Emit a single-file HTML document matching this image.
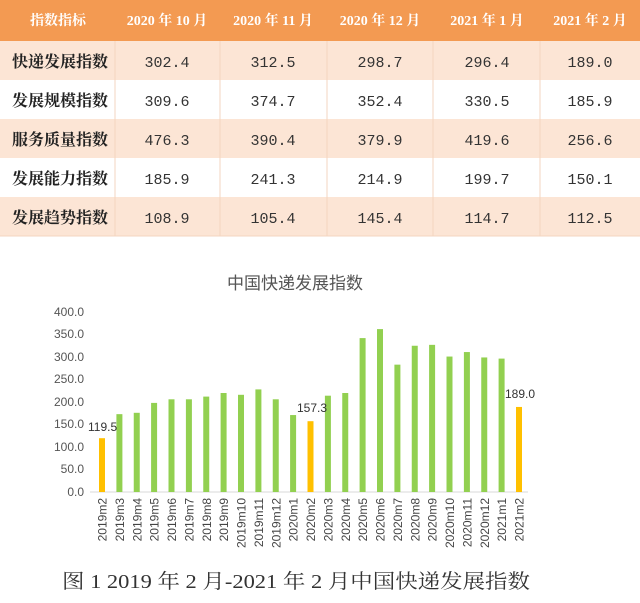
<!DOCTYPE html>
<html><head><meta charset="utf-8"><style>
body{margin:0;width:640px;height:603px;background:#fff;overflow:hidden;}
svg{display:block}
</style></head><body>
<svg width="640" height="603" xmlns="http://www.w3.org/2000/svg">
<rect x="0" y="0" width="640" height="41" fill="#f39a52"/>
<rect x="0" y="41" width="640" height="39" fill="#fce5d5"/>
<rect x="0" y="80" width="640" height="39" fill="#ffffff"/>
<rect x="0" y="119" width="640" height="39" fill="#fce5d5"/>
<rect x="0" y="158" width="640" height="39" fill="#ffffff"/>
<rect x="0" y="197" width="640" height="39" fill="#fce5d5"/>
<g stroke="#f3d5c0" stroke-width="1">
<line x1="115" y1="41" x2="115" y2="236"/><line x1="220" y1="41" x2="220" y2="236"/>
<line x1="327" y1="41" x2="327" y2="236"/><line x1="433" y1="41" x2="433" y2="236"/>
<line x1="540" y1="41" x2="540" y2="236"/>
<line x1="0" y1="236" x2="640" y2="236"/>
</g>
<g font-family="Liberation Serif, Noto Serif CJK SC, serif" font-weight="bold" font-size="14" fill="#fff" text-anchor="middle">
<text x="58" y="25">指数指标</text><text x="167" y="25">2020 年 10 月</text><text x="273" y="25">2020 年 11 月</text>
<text x="380" y="25">2020 年 12 月</text><text x="487" y="25">2021 年 1 月</text><text x="590" y="25">2021 年 2 月</text>
</g>
<g font-family="Noto Serif CJK SC, serif" font-weight="bold" font-size="16" fill="#222">
<text x="12" y="67">快递发展指数</text><text x="12" y="106">发展规模指数</text><text x="12" y="145">服务质量指数</text>
<text x="12" y="184">发展能力指数</text><text x="12" y="223">发展趋势指数</text>
</g>
<g font-family="Liberation Mono, monospace" font-size="15" fill="#333" text-anchor="middle">
<text x="167" y="67">302.4</text><text x="273" y="67">312.5</text><text x="380" y="67">298.7</text><text x="487" y="67">296.4</text><text x="590" y="67">189.0</text>
<text x="167" y="106">309.6</text><text x="273" y="106">374.7</text><text x="380" y="106">352.4</text><text x="487" y="106">330.5</text><text x="590" y="106">185.9</text>
<text x="167" y="145">476.3</text><text x="273" y="145">390.4</text><text x="380" y="145">379.9</text><text x="487" y="145">419.6</text><text x="590" y="145">256.6</text>
<text x="167" y="184">185.9</text><text x="273" y="184">241.3</text><text x="380" y="184">214.9</text><text x="487" y="184">199.7</text><text x="590" y="184">150.1</text>
<text x="167" y="223">108.9</text><text x="273" y="223">105.4</text><text x="380" y="223">145.4</text><text x="487" y="223">114.7</text><text x="590" y="223">112.5</text>
</g>
<text x="295" y="289" font-family="Noto Sans CJK SC, sans-serif" font-size="17" fill="#555" text-anchor="middle">中国快递发展指数</text>
<g font-family="Liberation Sans, sans-serif" font-size="12" fill="#555" text-anchor="end">
<text x="84" y="496">0.0</text><text x="84" y="473">50.0</text><text x="84" y="451">100.0</text><text x="84" y="428">150.0</text>
<text x="84" y="406">200.0</text><text x="84" y="383">250.0</text><text x="84" y="361">300.0</text><text x="84" y="338">350.0</text><text x="84" y="316">400.0</text>
</g>
<line x1="90" y1="492" x2="528" y2="492" stroke="#d9d9d9"/>
<g fill="#92d050">
<rect x="99" y="438.2" width="6" height="53.8" fill="#ffc000"/>
<rect x="116.4" y="414.15" width="6" height="77.85"/>
<rect x="133.75" y="412.8" width="6" height="79.2"/>
<rect x="151.1" y="402.9" width="6" height="89.1"/>
<rect x="168.5" y="399.3" width="6" height="92.7"/>
<rect x="185.9" y="399.3" width="6" height="92.7"/>
<rect x="203.25" y="396.6" width="6" height="95.4"/>
<rect x="220.6" y="393" width="6" height="99"/>
<rect x="238" y="394.8" width="6" height="97.2"/>
<rect x="255.4" y="389.4" width="6" height="102.6"/>
<rect x="272.75" y="399.3" width="6" height="92.7"/>
<rect x="290.1" y="415.05" width="6" height="76.95"/>
<rect x="307.5" y="421.2" width="6" height="70.8" fill="#ffc000"/>
<rect x="324.9" y="395.7" width="6" height="96.3"/>
<rect x="342.25" y="393" width="6" height="99"/>
<rect x="359.6" y="338.1" width="6" height="153.9"/>
<rect x="377" y="329.1" width="6" height="162.9"/>
<rect x="394.4" y="364.65" width="6" height="127.35"/>
<rect x="411.75" y="345.75" width="6" height="146.25"/>
<rect x="429.1" y="344.85" width="6" height="147.15"/>
<rect x="446.5" y="356.55" width="6" height="135.45"/>
<rect x="463.9" y="352.05" width="6" height="139.95"/>
<rect x="481.25" y="357.45" width="6" height="134.55"/>
<rect x="498.6" y="358.6" width="6" height="133.4"/>
<rect x="516" y="406.95" width="6" height="85.05" fill="#ffc000"/>
</g>
<g font-family="Liberation Sans, sans-serif" font-size="12" fill="#444" text-anchor="end">
<text transform="translate(106.5,498) rotate(-90)">2019m2</text>
<text transform="translate(123.9,498) rotate(-90)">2019m3</text>
<text transform="translate(141.25,498) rotate(-90)">2019m4</text>
<text transform="translate(158.6,498) rotate(-90)">2019m5</text>
<text transform="translate(176,498) rotate(-90)">2019m6</text>
<text transform="translate(193.4,498) rotate(-90)">2019m7</text>
<text transform="translate(210.75,498) rotate(-90)">2019m8</text>
<text transform="translate(228.1,498) rotate(-90)">2019m9</text>
<text transform="translate(245.5,498) rotate(-90)">2019m10</text>
<text transform="translate(262.9,498) rotate(-90)">2019m11</text>
<text transform="translate(280.25,498) rotate(-90)">2019m12</text>
<text transform="translate(297.6,498) rotate(-90)">2020m1</text>
<text transform="translate(315,498) rotate(-90)">2020m2</text>
<text transform="translate(332.4,498) rotate(-90)">2020m3</text>
<text transform="translate(349.75,498) rotate(-90)">2020m4</text>
<text transform="translate(367.1,498) rotate(-90)">2020m5</text>
<text transform="translate(384.5,498) rotate(-90)">2020m6</text>
<text transform="translate(401.9,498) rotate(-90)">2020m7</text>
<text transform="translate(419.25,498) rotate(-90)">2020m8</text>
<text transform="translate(436.6,498) rotate(-90)">2020m9</text>
<text transform="translate(454,498) rotate(-90)">2020m10</text>
<text transform="translate(471.4,498) rotate(-90)">2020m11</text>
<text transform="translate(488.75,498) rotate(-90)">2020m12</text>
<text transform="translate(506.1,498) rotate(-90)">2021m1</text>
<text transform="translate(523.5,498) rotate(-90)">2021m2</text>
</g>
<g font-family="Liberation Sans, sans-serif" font-size="12" fill="#333">
<text x="88" y="431">119.5</text><text x="297" y="412">157.3</text><text x="505" y="398">189.0</text>
</g>
<text x="62" y="588" textLength="468" lengthAdjust="spacingAndGlyphs" font-family="Liberation Serif, Noto Serif CJK SC, serif" font-size="20" fill="#333">图 1 2019 年 2 月-2021 年 2 月中国快递发展指数</text>
</svg>
</body></html>
